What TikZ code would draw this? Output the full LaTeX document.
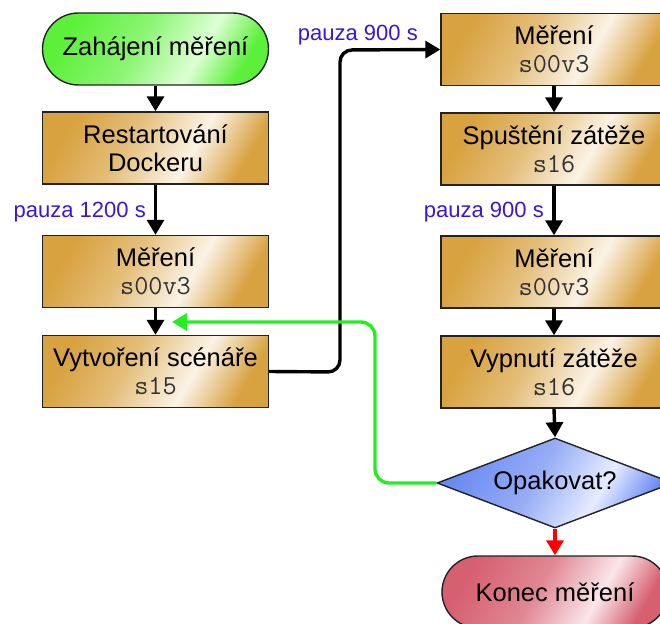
\documentclass[tikz,border=0pt]{standalone}
\usepackage{fontspec}
\setmainfont{Liberation Sans}
\usetikzlibrary{shapes.geometric,arrows.meta}
\definecolor{gold}{HTML}{D8A240}
\definecolor{goldl}{HTML}{FBF3E6}
\definecolor{gr}{HTML}{5CF03A}
\definecolor{grl}{HTML}{DDFFD4}
\definecolor{bl}{HTML}{6A8AF2}
\definecolor{bll}{HTML}{E6ECFF}
\definecolor{rd}{HTML}{D65F70}
\definecolor{rdl}{HTML}{FAE6EA}
\definecolor{lab}{HTML}{3A14E0}
\definecolor{edge}{HTML}{222222}
\definecolor{loopgreen}{HTML}{22EE22}
\pgfdeclarehorizontalshading{goldsh}{100bp}{color(0bp)=(gold); color(25bp)=(gold); color(42bp)=(gold!70!white); color(60bp)=(goldl); color(75bp)=(gold); color(100bp)=(gold)}
\pgfdeclarehorizontalshading{greensh}{100bp}{color(0bp)=(gr); color(25bp)=(gr); color(45bp)=(gr!70!white); color(62bp)=(grl); color(75bp)=(gr); color(100bp)=(gr)}
\pgfdeclarehorizontalshading{bluesh}{100bp}{color(0bp)=(bl); color(25bp)=(bl); color(45bp)=(bl!70!white); color(62bp)=(bll); color(75bp)=(bl); color(100bp)=(bl)}
\pgfdeclarehorizontalshading{redsh}{100bp}{color(0bp)=(rd); color(25bp)=(rd); color(45bp)=(rd!75!white); color(62bp)=(rdl); color(75bp)=(rd); color(100bp)=(rd)}
\tikzset{
  base/.style={draw=edge, line width=1.4pt, align=center, text=black,
    font=\fontsize{25.5}{28}\selectfont, inner sep=0pt, shading angle=-30},
  box/.style={base, rectangle, minimum width=226pt, minimum height=72pt, shading=goldsh},
  startbox/.style={base, rectangle, rounded corners=36pt, minimum width=226pt, minimum height=72pt, shading=greensh},
  endbox/.style={base, rectangle, rounded corners=36pt, minimum width=226pt, minimum height=72pt, shading=redsh},
  decision/.style={base, diamond, minimum width=236pt, minimum height=90pt, aspect=2.6, shading=bluesh},
  arr/.style={line width=3.4pt, -{Triangle[width=17pt,length=15pt]}},
  lbl/.style={text=lab, font=\fontsize{22}{26}\selectfont, inner sep=0pt, anchor=east}
}
\newcommand{\cd}[1]{{\ttfamily\fontsize{27.5}{28}\selectfont\color{black!80}#1}}
\begin{document}
\begin{tikzpicture}[x=1pt,y=-1pt]
\useasboundingbox (0,0) rectangle (660,623);
\node[startbox] (start) at (155.5,49) {Zahájení měření};
\node[box] (restart) at (155.5,148) {Restartování\\Dockeru};
\node[box] (mer1) at (155.5,271.5) {Měření\\\cd{s00v3}};
\node[box] (vytv) at (155.5,371.5) {Vytvoření scénáře\\\cd{s15}};
\node[box] (mer2) at (554,49.5) {Měření\\\cd{s00v3}};
\node[box] (spust) at (554,149) {Spuštění zátěže\\\cd{s16}};
\node[box] (mer3) at (554,272) {Měření\\\cd{s00v3}};
\node[box] (vypn) at (554,372) {Vypnutí zátěže\\\cd{s16}};
\node[decision] (dia) at (555,483) {Opakovat?};
\node[endbox] (end) at (555,592) {Konec měření};

\node[lbl] (l1) at (146,212) {pauza 1200 s};
\node[lbl] (l2) at (418,35) {pauza 900 s};
\node[lbl] (l3) at (544,212) {pauza 900 s};

\draw[arr] (start) -- (restart);
\draw[arr] (restart) -- (mer1);
\draw[arr] (mer1) -- (vytv);
\draw[arr] (mer2) -- (spust);
\draw[arr] (spust) -- (mer3);
\draw[arr] (mer3) -- (vypn);
\draw[arr] (vypn.south) -- (dia.north);
\draw[arr, red] (dia.south) -- (end.north);
\draw[arr, rounded corners=12pt] (vytv.east) -- (340,372) -- (340,50) -- (mer2.west);
\coordinate (gin) at (172,322);
\draw[arr, loopgreen, rounded corners=14pt] (dia.west) -- (375,483) -- (375,322) -- (gin);
\end{tikzpicture}
\end{document}
